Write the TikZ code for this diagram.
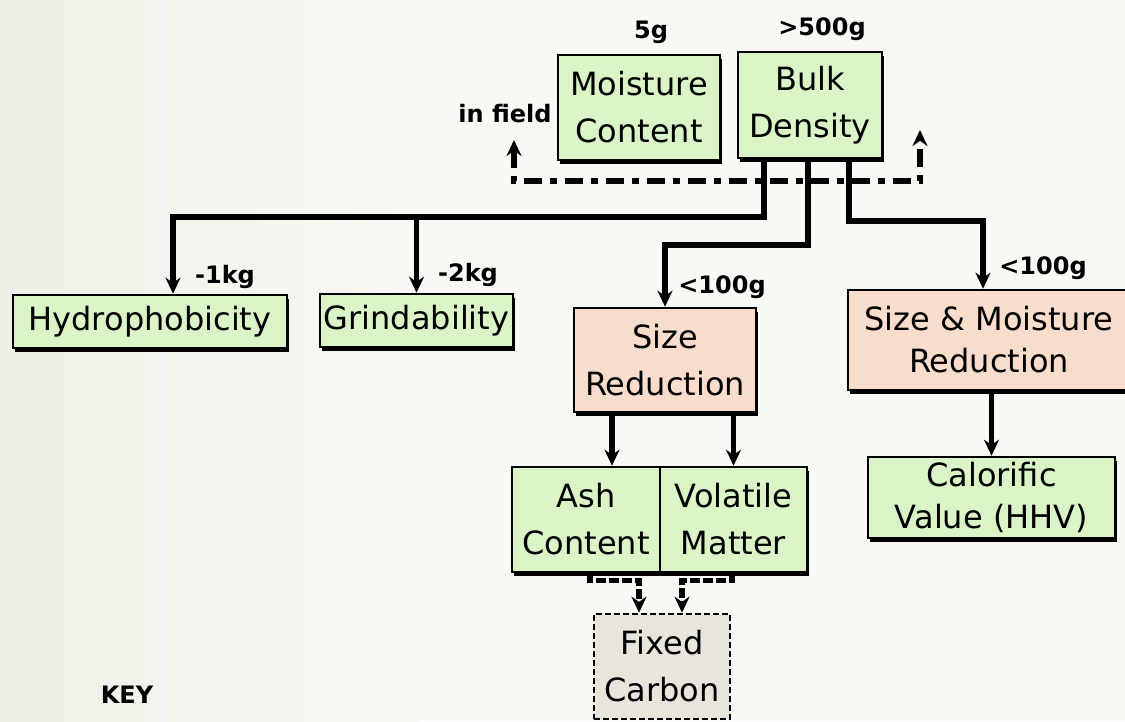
\documentclass[tikz,border=0pt]{standalone}
\usepackage{fontspec}
\setmainfont{DejaVu Sans}
\usetikzlibrary{arrows.meta,shadows}
\definecolor{boxgreen}{HTML}{DAF4C8}
\definecolor{boxpink}{HTML}{F9DDCC}
\definecolor{boxgrey}{HTML}{E8E6DC}
\definecolor{bgcol}{HTML}{F8F9F4}
\definecolor{bgleft}{HTML}{EEF0E7}
\begin{document}
\begin{tikzpicture}[x=1pt,y=-1pt,
  box/.style={draw=black, line width=2.6pt, align=center, inner sep=0pt,
    font=\fontsize{32}{47}\selectfont,
    drop shadow={shadow xshift=1.5pt, shadow yshift=-3.5pt, opacity=1, fill=black}},
  gbox/.style={box, fill=boxgreen},
  pbox/.style={box, fill=boxpink},
  fbox/.style={draw=black, line width=2.6pt, dash pattern=on 6pt off 3pt, fill=boxgrey,
    align=center, inner sep=0pt, font=\fontsize{32}{47}\selectfont},
  lbl/.style={font=\fontsize{24}{26}\selectfont\bfseries, inner sep=0pt},
  tip/.style={-{Stealth[length=16pt,width=15pt]}},
  conn/.style={line width=5.5pt, tip},
  dconn/.style={line width=5.5pt, dash pattern=on 10pt off 3pt, tip},
  ddot/.style={line width=5.5pt, dash pattern=on 18pt off 8pt on 7pt off 8pt}
]
\useasboundingbox (0,0) rectangle (1125,721);
\fill[bgcol] (0,0) rectangle (1125,721);
\shade[left color=bgleft, right color=bgcol] (0,0) rectangle (420,721);

% nodes
\node[gbox, minimum width=162, minimum height=105] (mc) at (639,107.5) {Moisture\\Content};
\node[gbox, minimum width=144, minimum height=106] (bd) at (810,105) {Bulk\\Density};
\node[gbox, minimum width=274, minimum height=53] (hy) at (150,321.5) {Hydrophobicity};
\node[gbox, minimum width=193, minimum height=53] (gr) at (416.5,320.5) {Grindability};
\node[pbox, minimum width=182, minimum height=104] (sr) at (665,360) {Size\\Reduction};
\node[pbox, minimum width=282, minimum height=100, font=\fontsize{32}{42}\selectfont] (smr) at (989,340) {Size \& Moisture\\Reduction};
\node[gbox, minimum width=148, minimum height=105] (ash) at (586,519.5) {Ash\\Content};
\node[gbox, minimum width=147, minimum height=105] (vm) at (733.5,519.5) {Volatile\\Matter};
\node[gbox, minimum width=247, minimum height=81, font=\fontsize{32}{42}\selectfont] (cv) at (991.5,497.5) {Calorific\\Value (HHV)};
\node[fbox, minimum width=136, minimum height=105] (fc) at (662,666.5) {Fixed\\Carbon};

% labels
\node[lbl] (l5) at (651,32) {5g};
\node[lbl] (l500) at (822,29) {>500g};
\node[lbl] (lif) at (505,114) {in field};
\node[lbl] (l1) at (225,277) {-1kg};
\node[lbl] (l2) at (468,275) {-2kg};
\node[lbl] (l3) at (722,287) {<100g};
\node[lbl] (l4) at (1043,268) {<100g};
\node[lbl] (key) at (127,695) {KEY};

% in-field dash-dot line
\coordinate (f1) at (514,140);
\coordinate (f2) at (920,130);
\coordinate (f3) at (514,181);
\coordinate (f4) at (920,181);
\draw[ddot, {Stealth[length=16pt,width=15pt]}-{Stealth[length=16pt,width=15pt]}] (f1) -- (f3) -- (f4) -- (f2);

% connectors from bulk density
\coordinate (j1) at (764,217);
\coordinate (j2) at (808,245);
\coordinate (j3) at (849,221);
\draw[conn] ([xshift=-46pt]bd.south) -- (j1) -| ([xshift=23pt]hy.north);
\draw[conn] (gr.north |- j1) -- (gr.north);
\draw[conn] ([xshift=-2pt]bd.south) -- (j2) -| (sr.north);
\draw[conn] ([xshift=39pt]bd.south) -- (j3) -| ([xshift=-6pt]smr.north);

% size reduction to analyses
\coordinate (a1) at ([xshift=26pt]ash.north);
\draw[conn] (sr.south -| a1) -- (a1);
\draw[conn] (vm.north |- sr.south) -- (vm.north);
\draw[conn] (smr.south -| cv.north) -- (cv.north);

% dashed to fixed carbon
\draw[dconn] ([xshift=4pt]ash.south) -- ++(0,7) -| ([xshift=-23pt]fc.north);
\draw[dconn] ([xshift=-1.5pt]vm.south) -- ++(0,7) -| ([xshift=20pt]fc.north);
\end{tikzpicture}
\end{document}
